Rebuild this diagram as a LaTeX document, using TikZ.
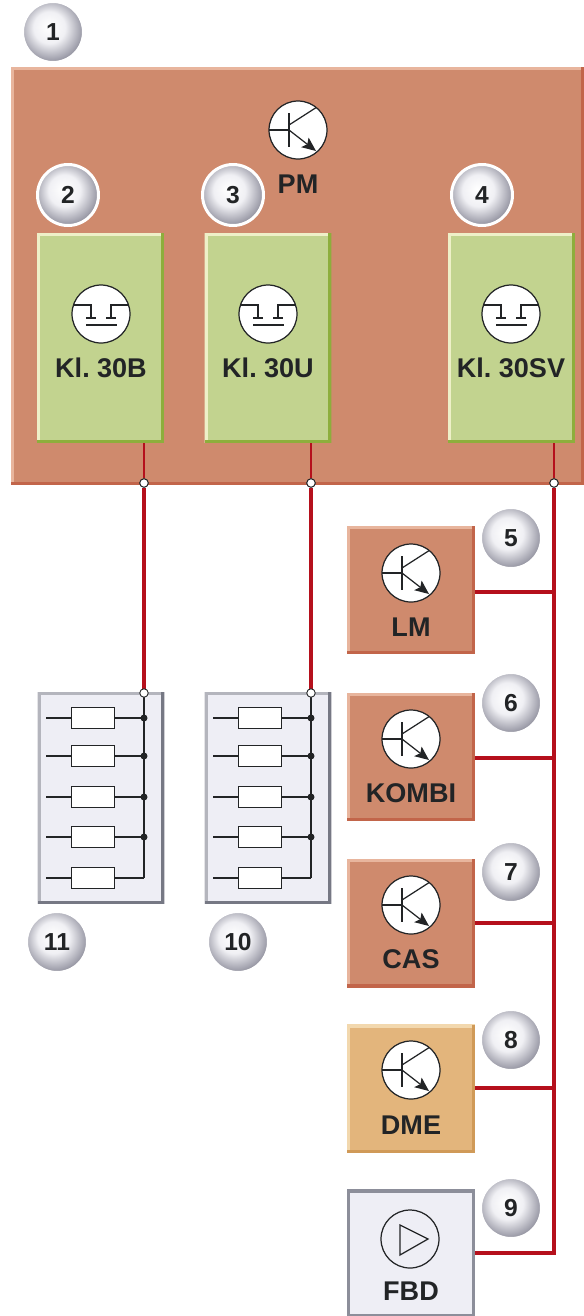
\documentclass[tikz,border=0pt]{standalone}
\usepackage{fontspec}
\setmainfont{Liberation Sans}
\usetikzlibrary{arrows.meta}

\definecolor{pmbrown}{HTML}{CF8A6D}
\definecolor{pmlight}{HTML}{E8B59D}
\definecolor{pmdark}{HTML}{C2654A}
\definecolor{klgreen}{HTML}{C2D38F}
\definecolor{kllight}{HTML}{EEF0C8}
\definecolor{kldark}{HTML}{8DAE3C}
\definecolor{dmetan}{HTML}{E3B57C}
\definecolor{dmelight}{HTML}{F2D8AE}
\definecolor{dmedark}{HTML}{D09A58}
\definecolor{panelgrey}{HTML}{EEEEF5}
\definecolor{panellight}{HTML}{B4B5BD}
\definecolor{paneldark}{HTML}{767884}
\definecolor{fbdedge}{HTML}{8C8E9A}
\definecolor{wirered}{HTML}{B5101C}
\definecolor{inkdark}{HTML}{222426}
\definecolor{rimlight}{HTML}{F0F0F4}
\definecolor{rimmid}{HTML}{C8C8D0}
\definecolor{rimgrey}{HTML}{A0A0AC}
\definecolor{rimdark}{HTML}{70707C}

\newcommand{\labelfont}{\fontsize{15.4}{18}\selectfont\bfseries\spaceskip=0.18em\relax}

\pgfdeclareradialshading{badgeshade}{\pgfpoint{-4bp}{5bp}}{
  color(0bp)=(white); color(13bp)=(rimlight); color(19bp)=(rimmid);
  color(25bp)=(rimgrey); color(31bp)=(rimdark); color(50bp)=(rimdark)}

\tikzset{
  panel/.style n args={3}{rectangle, inner sep=0pt, fill=#1, path picture={
      \draw[#2, line width=0.12cm] (path picture bounding box.south west) -- (path picture bounding box.north west) -- (path picture bounding box.north east);
      \draw[#3, line width=0.12cm] (path picture bounding box.north east) -- (path picture bounding box.south east) -- (path picture bounding box.south west);
  }},
  klbox/.style={panel={klgreen}{kllight}{kldark}, minimum width=2.54cm, minimum height=4.2cm},
  ecubox/.style={panel={pmbrown}{pmlight}{pmdark}, minimum width=2.56cm, minimum height=2.56cm},
  dmebox/.style={panel={dmetan}{dmelight}{dmedark}, minimum width=2.56cm, minimum height=2.56cm},
  fbdbox/.style={panel={panelgrey}{fbdedge}{fbdedge}, minimum width=2.56cm, minimum height=2.54cm},
  fusebox/.style={panel={panelgrey}{panellight}{paneldark}, minimum width=2.54cm, minimum height=4.24cm},
  symbol/.style={circle, inner sep=0pt, minimum size=1.16cm, draw=inkdark, line width=0.7pt},
  transistor/.style={symbol, fill=white, path picture={
      \begin{scope}[shift={(path picture bounding box.center)}, draw=inkdark, line width=0.7pt]
        \draw (-29,0) -- (-9,0);
        \draw (-9,-17) -- (-9,17);
        \draw (-9,-5) -- (19,-23);
        \draw[-{Stealth[length=2.8mm,width=2.4mm,inset=0.6mm]}] (-9,0) -- (18,21);
      \end{scope}
  }},
  relay/.style={symbol, fill=white, path picture={
      \begin{scope}[shift={(path picture bounding box.center)}, draw=inkdark, line width=0.7pt]
        \draw (-29,-9) -- (-10,-9) -- (-10,3);
        \draw (29,-9) -- (10,-9) -- (10,3);
        \draw[line width=1.4pt] (-15,4) -- (-5,4);
        \draw[line width=1.4pt] (5,4) -- (15,4);
        \draw (-15,11) -- (16,11);
      \end{scope}
  }},
  driver/.style={symbol, path picture={
      \begin{scope}[shift={(path picture bounding box.center)}]
        \draw[inkdark, line width=0.7pt] (-10,-14) -- (18,0) -- (-10,16) -- cycle;
      \end{scope}
  }},
  label/.style={inner sep=0pt, text=inkdark, font=\labelfont},
  badge/.style={circle, inner sep=0pt, minimum size=1.22cm, draw=white, line width=0.06cm, shading=badgeshade,
    text=inkdark, font=\fontsize{14}{16}\selectfont\bfseries},
  joint/.style={circle, inner sep=0pt, minimum size=0.17cm, draw=inkdark, line width=0.5pt, fill=white},
  dot/.style={circle, inner sep=0pt, minimum size=0.14cm, fill=inkdark},
  fuse/.style={rectangle, inner sep=0pt, minimum width=0.86cm, minimum height=0.42cm, draw=inkdark, line width=0.7pt, fill=white},
  wire/.style={draw=wirered, line width=0.08cm},
  thinwire/.style={draw=wirered, line width=0.045cm},
  busline/.style={draw=inkdark, line width=0.7pt}
}

\begin{document}
\begin{tikzpicture}[x=0.02cm, y=-0.02cm]
  \useasboundingbox (0,0) rectangle (584,1316);

  % Power module
  \node[panel={pmbrown}{pmlight}{pmdark}, minimum width=11.46cm, minimum height=8.36cm] (pm) at (297.5,276) {};
  \node[transistor] (pmT) at (298,130) {};
  \node[label] (pmL) at (298,184) {PM};

  % Terminals inside the module
  \node[klbox] (klB) at (100.5,338) {};
  \node[klbox] (klU) at (268,338) {};
  \node[klbox] (klS) at (511.5,338) {};
  \node[relay] (klBR) at (101,314) {};
  \node[relay] (klUR) at (268,314) {};
  \node[relay] (klSR) at (511,314) {};
  \node[label] (klBL) at (101,368) {Kl. 30B};
  \node[label] (klUL) at (268,368) {Kl. 30U};
  \node[label] (klSL) at (511,368) {Kl. 30SV};

  % Control units on the right
  \node[ecubox] (lm) at (411,590) {};
  \node[ecubox] (kombi) at (411,757) {};
  \node[ecubox] (cas) at (411,923) {};
  \node[dmebox] (dme) at (411,1088.5) {};
  \node[fbdbox] (fbd) at (411,1253) {};
  \node[transistor] (lmT) at (411,573) {};
  \node[transistor] (kombiT) at (411,739) {};
  \node[transistor] (casT) at (411,905) {};
  \node[transistor] (dmeT) at (411,1070) {};
  \node[driver] (fbdT) at (410,1239) {};
  \node[label] (lmL) at (411,627) {LM};
  \node[label] (kombiL) at (411,793) {KOMBI};
  \node[label] (casL) at (411,959) {CAS};
  \node[label] (dmeL) at (411,1125) {DME};
  \node[label] (fbdL) at (411,1291) {FBD};

  % Fuse carriers
  \node[fusebox] (fuB) at (101,798) {};
  \node[fusebox] (fuU) at (268,798) {};
  \foreach \fu/\bus in {fuB/144, fuU/311} {
    \coordinate (\fu top) at (\bus,693);
    \foreach \n/\y in {1/718, 2/756, 3/797, 4/837, 5/878} {
      \node[fuse] (\fu\n) at (\bus-51,\y) {};
      \coordinate (\fu bus\n) at (\bus,\y);
      \coordinate (\fu in\n) at (\bus-98,\y);
      \draw[busline] (\fu in\n) -- (\fu\n.west);
      \draw[busline] (\fu\n.east) -- (\fu bus\n);
    }
    \draw[busline] (\fu top) -- (\fu bus5);
    \foreach \n in {1,2,3,4} \node[dot] (\fu dot\n) at (\fu bus\n) {};
  }

  % Supply lines
  \node[joint] (jB) at (144,483) {};
  \node[joint] (jU) at (311,483) {};
  \node[joint] (jS) at (554,483) {};
  \coordinate (tapFbd) at (554,1253);
  \draw[thinwire] (jB) -- (jB |- klB.south);
  \draw[thinwire] (jU) -- (jU |- klU.south);
  \draw[thinwire] (jS) -- (jS |- klS.south);
  \draw[wire] (jB) -- (fuBtop);
  \draw[wire] (jU) -- (fuUtop);
  \draw[wire] (jS) -- (tapFbd) -- (tapFbd -| fbd.east);
  \foreach \unit/\y in {lm/592, kombi/758, cas/923, dme/1088} {
    \coordinate (tap\unit) at (554,\y);
    \draw[wire] (tap\unit) -- (tap\unit -| \unit.east);
  }
  \node[joint] (jB) at (144,483) {};
  \node[joint] (jU) at (311,483) {};
  \node[joint] (jS) at (554,483) {};
  \node[joint] (jBf) at (fuBtop) {};
  \node[joint] (jUf) at (fuUtop) {};

  % Number badges
  \node[badge] (b1) at (53,32) {1};
  \node[badge] (b2) at (68,195) {2};
  \node[badge] (b3) at (233,195) {3};
  \node[badge] (b4) at (482,195) {4};
  \node[badge] (b5) at (511,538) {5};
  \node[badge] (b6) at (511,703) {6};
  \node[badge] (b7) at (511,872) {7};
  \node[badge] (b8) at (511,1040) {8};
  \node[badge] (b9) at (511,1208) {9};
  \node[badge] (b10) at (238,942) {10};
  \node[badge] (b11) at (57,942) {11};
\end{tikzpicture}
\end{document}
